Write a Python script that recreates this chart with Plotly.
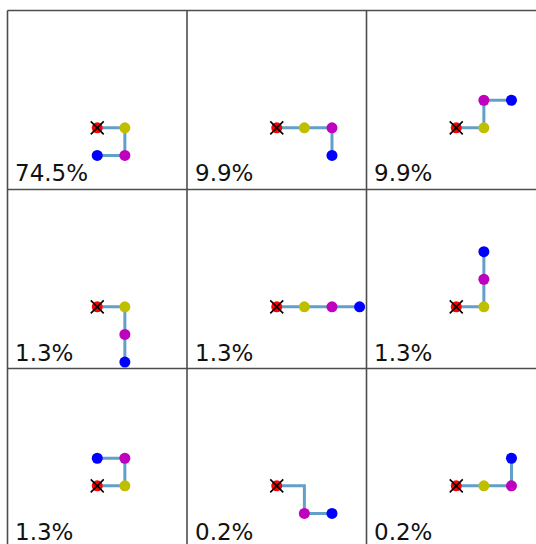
import plotly.graph_objects as go

# Conformations: coordinates of the 4 beads (red, yellow, magenta, blue)
xs = [
    [0, 1, 1, 0],
    [0, 1, 2, 2],
    [0, 1, 1, 2],
    [0, 1, 1, 1],
    [0, 1, 2, 3],
    [0, 1, 1, 1],
    [0, 1, 1, 0],
    [0, 1, 1, 2],
    [0, 1, 2, 2],
]
ys = [
    [0, 0, -1, -1],
    [0, 0, 0, -1],
    [0, 0, 1, 1],
    [0, 0, -1, -2],
    [0, 0, 0, 0],
    [0, 0, 1, 2],
    [0, 0, 1, 1],
    [0, 0, -1, -1],
    [0, 0, 0, 1],
]
labels = ["74.5%", "9.9%", "9.9%", "1.3%", "1.3%", "1.3%", "1.3%", "0.2%", "0.2%"]
bead_colors = ["#ff0000", "#bfbf00", "#bf00bf", "#0000ff"]
# beads whose marker is not shown in the reference (panel index, bead index)
hidden_beads = [(7, 1)]

W, H = 536, 544
cell = 179.5
col_left = [7.5, 187.0, 366.5]
row_top = [10.5, 189.5, 368.5]
unit = cell / 6.5
X0, Y1 = -3.25, 4.25

fig = go.Figure()
layout = dict(
    width=W, height=H, margin=dict(l=0, r=0, t=0, b=0),
    paper_bgcolor="white", plot_bgcolor="white", showlegend=False,
)
annotations = []
shapes = []

for i in range(9):
    r, c = divmod(i, 3)
    L = col_left[c]
    R = min(L + cell, W)
    T = row_top[r]
    B = min(T + cell, H)
    k = "" if i == 0 else str(i + 1)
    layout["xaxis" + k] = dict(
        domain=[L / W, R / W], range=[X0, X0 + (R - L) / unit],
        showgrid=False, zeroline=False, showticklabels=False, ticks="",
        showline=False, fixedrange=True, anchor="y" + k,
    )
    layout["yaxis" + k] = dict(
        domain=[(H - B) / H, (H - T) / H], range=[Y1 - (B - T) / unit, Y1],
        showgrid=False, zeroline=False, showticklabels=False, ticks="",
        showline=False, fixedrange=True, anchor="x" + k,
    )
    xa, ya = "x" + k, "y" + k
    fig.add_trace(go.Scatter(
        x=xs[i], y=ys[i], mode="lines",
        line=dict(color="rgba(31,119,180,0.7)", width=3),
        xaxis=xa, yaxis=ya, hoverinfo="skip",
    ))
    cols = [("rgba(0,0,0,0)" if (i, j) in hidden_beads else bead_colors[j])
            for j in range(len(bead_colors))]
    fig.add_trace(go.Scatter(
        x=xs[i], y=ys[i], mode="markers",
        marker=dict(color=cols, size=11, line=dict(width=0)),
        xaxis=xa, yaxis=ya, hoverinfo="skip",
    ))
    fig.add_trace(go.Scatter(
        x=[xs[i][0]], y=[ys[i][0]], mode="markers",
        marker=dict(symbol="x-thin", size=13, color="black",
                    line=dict(width=1.6, color="black")),
        xaxis=xa, yaxis=ya, hoverinfo="skip",
    ))
    baseline = T + cell - 9
    annotations.append(dict(
        text=labels[i], xref="paper", yref="paper",
        x=(L + 7.5) / W, y=(H - (baseline + 5.5)) / H,
        xanchor="left", yanchor="bottom", showarrow=False,
        borderpad=0, borderwidth=0,
        font=dict(family="DejaVu Sans", size=23, color="#111111"),
    ))

# cell borders
for xl in col_left:
    shapes.append(dict(type="line", xref="paper", yref="paper",
                       x0=xl / W, x1=xl / W, y0=(H - row_top[0]) / H, y1=0,
                       line=dict(color="#4d4d4d", width=1.6)))
for yt in row_top:
    shapes.append(dict(type="line", xref="paper", yref="paper",
                       x0=col_left[0] / W, x1=1, y0=(H - yt) / H, y1=(H - yt) / H,
                       line=dict(color="#4d4d4d", width=1.6)))

layout["annotations"] = annotations
layout["shapes"] = shapes
fig.update_layout(**layout)
fig.write_html(
    "out.html",
    config={"displayModeBar": False},
    post_script="document.body.style.margin='0';document.body.style.padding='0';"
                "document.documentElement.style.overflow='hidden';",
)
